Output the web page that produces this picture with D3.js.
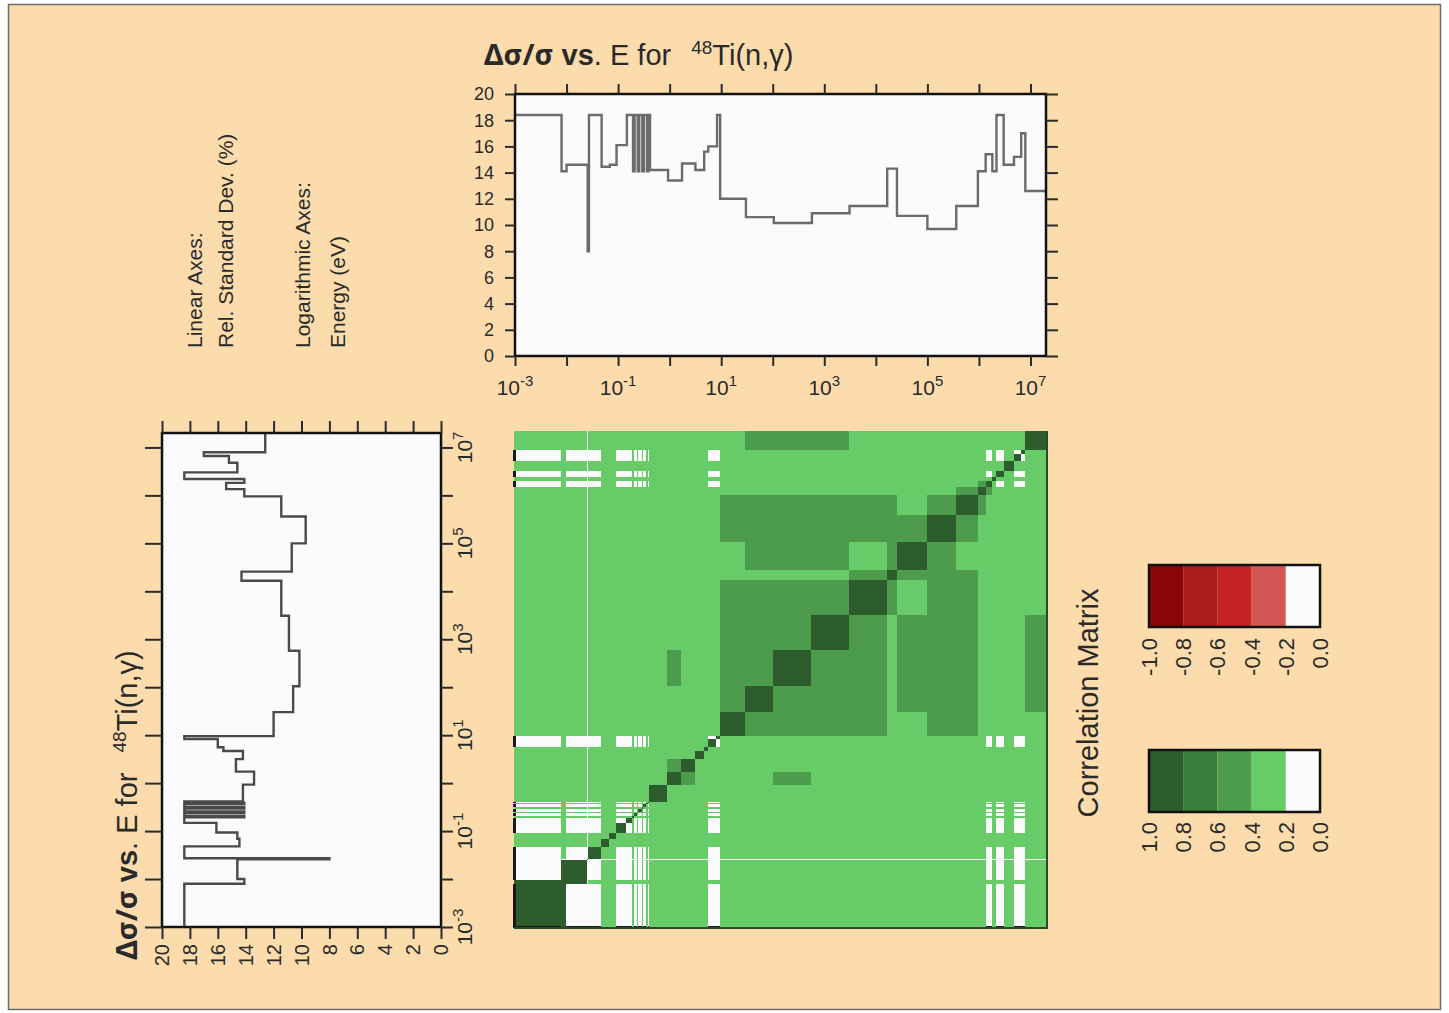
<!DOCTYPE html>
<html>
<head>
<meta charset="utf-8">
<script src="https://cdn.jsdelivr.net/npm/d3@7"></script>
<style>
  body { margin: 0; background: #ffffff; }
  text { font-family: "Liberation Sans", Arial, sans-serif; fill: #2a2a2a; }
</style>
</head>
<body>
<svg id="chart" width="1449" height="1013"></svg>
<script>
// ---- data ----
// group boundaries (eV) and rel. standard deviation (%) per group
const energyEdges = [0.001, 0.008, 0.01, 0.0257, 0.0272, 0.0479, 0.0692, 0.0933, 0.148, 0.195,
  0.209, 0.240, 0.257, 0.295, 0.316, 0.363, 0.389, 0.417, 0.933, 1.74, 3.16, 4.68, 5.62, 8.32,
  9.55, 30.2, 105, 575, 3090, 16600, 25700, 1.0e5, 3.63e5, 9.55e5, 1.35e6, 1.82e6, 2.19e6,
  3.02e6, 4.79e6, 6.61e6, 7.94e6, 2.0e7];
const relStdDev = [18.4, 14.1, 14.6, 8.0, 18.4, 14.45, 14.6, 16.1, 18.4, 14.1, 18.4, 14.1, 18.4,
  14.1, 18.4, 14.1, 18.4, 14.2, 13.4, 14.7, 14.2, 15.6, 16.0, 18.4, 12.0, 10.6, 10.15, 10.9,
  11.45, 14.3, 10.7, 9.7, 11.45, 14.1, 15.4, 14.1, 18.4, 14.6, 15.2, 17.0, 12.6];

// correlation matrix: background level, blocks [rowFrom, rowTo, colFrom, colTo, corr] (group numbers, mirrored)
const corrBackground = 0.3;
const corrBlocks = [
  [41, 41, 26, 28, 0.5],
  [32, 33, 25, 29, 0.5],
  [25, 29, 25, 29, 0.5],
  [29, 29, 30, 30, 0.5],
  [31, 33, 30, 30, 0.5],
  [26, 28, 31, 33, 0.5],
  [25, 25, 32, 33, 0.5],
  [29, 29, 32, 33, 0.5],
  [32, 32, 31, 31, 0.5],
  [33, 33, 32, 32, 0.5],
  [33, 33, 34, 34, 0.5],
  [35, 35, 34, 34, 0.5],
  [27, 27, 19, 19, 0.5],
  [20, 20, 19, 19, 0.5],
  [1, 2, 1, 2, 0.9],
  [2, 3, 2, 3, 0.9]
];
const diagCorr = 0.9;
// groups that are uncorrelated with each other, and one uncorrelated with everything
const uncorrelatedGroups = [1, 3, 4, 5, 8, 9, 11, 13, 15, 17, 23, 24, 35, 37, 39, 40];
const isolatedGroups = [4];

// ticks and legend
const decadeTicks = [1e-3, 1e-2, 1e-1, 1e0, 1e1, 1e2, 1e3, 1e4, 1e5, 1e6, 1e7];
const decadeLabels = [[1e-3, "-3"], [1e-1, "-1"], [1e1, "1"], [1e3, "3"], [1e5, "5"], [1e7, "7"]];
const stdDevTicks = [0, 2, 4, 6, 8, 10, 12, 14, 16, 18, 20];
const legendPosEdges = [1.0, 0.8, 0.6, 0.4, 0.2, 0.0];
const legendPosLabels = ["1.0", "0.8", "0.6", "0.4", "0.2", "0.0"];
const legendPosColors = ["#2d5c2d", "#3a7c3a", "#4d9b4d", "#67cb67", "#fbfbfd"];
const legendNegEdges = [-1.0, -0.8, -0.6, -0.4, -0.2, 0.0];
const legendNegLabels = ["-1.0", "-0.8", "-0.6", "-0.4", "-0.2", "0.0"];
const legendNegColors = ["#880606", "#aa1c1c", "#c62424", "#d35757", "#fbfbfd"];

const svg = d3.select("#chart");

// page background + border
svg.append("rect").attr("x", 8.5).attr("y", 4.5).attr("width", 1432).attr("height", 1005)
  .attr("fill", "#fcdcac").attr("stroke", "#6d6d6d").attr("stroke-width", 1.5);

// scales
const xTop = d3.scaleLog().domain([1e-3, 2e7]).range([515, 1046]);
const yTop = d3.scaleLinear().domain([0, 20]).range([356, 94]);
const xLeft = d3.scaleLinear().domain([20, 0]).range([162, 441]);
const yLeft = d3.scaleLog().domain([1e-3, 2e7]).range([927, 433]);
const xMat = d3.scaleLog().domain([1e-3, 2e7]).range([514, 1046]);
const yMat = d3.scaleLog().domain([1e-3, 2e7]).range([928, 431]);
const corrColor = d3.scaleThreshold().domain([0.2, 0.4, 0.6, 0.8])
  .range(["#fbfbfd", "#67cb67", "#4d9b4d", "#3a7c3a", "#2d5c2d"]);

// step points
const stepPts = [];
relStdDev.forEach(function(v, i) {
  stepPts.push({e: energyEdges[i], v: v});
  stepPts.push({e: energyEdges[i + 1], v: v});
});

function tickAxis(g, axis, tx, ty) {
  const a = g.append("g").attr("transform", "translate(" + tx + "," + ty + ")").call(axis);
  a.select(".domain").remove();
  a.selectAll(".tick text").remove();
  a.selectAll(".tick line").attr("stroke", "#2b2b2b").attr("stroke-width", 2);
  return a;
}

function powLabel(g, x, y, exp, rotate) {
  const t = g.append("text").attr("x", x).attr("y", y)
    .attr("text-anchor", "middle").style("font-size", "21px");
  if (rotate) t.attr("transform", "rotate(-90," + x + "," + y + ")");
  t.append("tspan").text("10");
  t.append("tspan").attr("dy", -9).style("font-size", "15px").text(exp);
}

function titleText(g, x, y, anchor, rotate) {
  const t = g.append("text").attr("x", x).attr("y", y)
    .attr("text-anchor", anchor).style("font-size", "29px");
  if (rotate) t.attr("transform", "rotate(-90," + x + "," + y + ")");
  t.append("tspan").style("font-family", "'Noto Sans', 'DejaVu Sans', sans-serif")
    .style("font-weight", "bold").text("\u0394\u03c3/\u03c3");
  t.append("tspan").style("font-weight", "bold").text(" vs");
  t.append("tspan").text(".  E for");
  t.append("tspan").attr("dx", 20).attr("dy", -11).style("font-size", "19px").text("48");
  t.append("tspan").attr("dy", 11).text("Ti(n,\u03b3)");
}

// ============ top plot ============
const gTop = svg.append("g");
titleText(gTop, 484, 65, "start", false);
gTop.append("rect").attr("x", 515).attr("y", 94).attr("width", 531).attr("height", 262)
  .attr("fill", "#fbfbfd");
gTop.append("path").datum(stepPts)
  .attr("d", d3.line().x(d => xTop(d.e)).y(d => yTop(d.v)))
  .attr("fill", "none").attr("stroke", "#6b6b6b").attr("stroke-width", 2.4);
gTop.append("rect").attr("x", 515).attr("y", 94).attr("width", 531).attr("height", 262)
  .attr("fill", "none").attr("stroke", "#111").attr("stroke-width", 2.5);
tickAxis(gTop, d3.axisTop(xTop).tickValues(decadeTicks).tickSize(10), 0, 94);
tickAxis(gTop, d3.axisBottom(xTop).tickValues(decadeTicks).tickSize(10), 0, 356);
tickAxis(gTop, d3.axisLeft(yTop).tickValues(stdDevTicks).tickSize(10), 515, 0);
tickAxis(gTop, d3.axisRight(yTop).tickValues(stdDevTicks).tickSize(12), 1046, 0);
gTop.selectAll("text.ylab").data(stdDevTicks).join("text").attr("class", "ylab")
  .attr("x", 494).attr("y", d => yTop(d)).attr("dy", "0.36em")
  .attr("text-anchor", "end").style("font-size", "18px").text(d => d);
decadeLabels.forEach(function(d) { powLabel(gTop, xTop(d[0]), 395, d[1], false); });

// ============ axis description ============
const gInfo = svg.append("g");
const infoLines = [["Linear Axes:", 202], ["Rel. Standard Dev. (%)", 233], ["Logarithmic Axes:", 310], ["Energy (eV)", 345]];
infoLines.forEach(function(d) {
  gInfo.append("text").attr("x", d[1]).attr("y", 348)
    .attr("transform", "rotate(-90," + d[1] + ",348)")
    .style("font-size", "21px").text(d[0]);
});

// ============ left plot ============
const gLeft = svg.append("g");
titleText(gLeft, 137, 805, "middle", true);
gLeft.append("rect").attr("x", 162).attr("y", 433).attr("width", 279).attr("height", 494)
  .attr("fill", "#fbfbfd");
gLeft.append("path").datum(stepPts)
  .attr("d", d3.line().x(d => xLeft(d.v)).y(d => yLeft(d.e)))
  .attr("fill", "none").attr("stroke", "#4a4a4a").attr("stroke-width", 2.4);
gLeft.append("rect").attr("x", 162).attr("y", 433).attr("width", 279).attr("height", 494)
  .attr("fill", "none").attr("stroke", "#111").attr("stroke-width", 2.5);
tickAxis(gLeft, d3.axisTop(xLeft).tickValues(stdDevTicks).tickSize(12), 0, 433);
tickAxis(gLeft, d3.axisBottom(xLeft).tickValues(stdDevTicks).tickSize(12), 0, 927);
tickAxis(gLeft, d3.axisLeft(yLeft).tickValues(decadeTicks).tickSize(17), 162, 0);
tickAxis(gLeft, d3.axisRight(yLeft).tickValues(decadeTicks).tickSize(12), 441, 0);
gLeft.selectAll("text.xlab").data(stdDevTicks).join("text").attr("class", "xlab")
  .attr("x", d => xLeft(d)).attr("y", 944).attr("dy", "0.36em")
  .attr("transform", d => "rotate(-90," + xLeft(d) + ",944)")
  .attr("text-anchor", "end").style("font-size", "20px").text(d => d);
decadeLabels.forEach(function(d) { powLabel(gLeft, 472, yLeft(d[0]), d[1], true); });

// ============ correlation matrix ============
const gMat = svg.append("g").attr("shape-rendering", "crispEdges");
function cell(r1, r2, c1, c2, v) {
  return {x0: energyEdges[c1 - 1], x1: energyEdges[c2], y0: energyEdges[r1 - 1], y1: energyEdges[r2], v: v};
}
const cells = [cell(1, 41, 1, 41, corrBackground)];
corrBlocks.forEach(function(b) {
  cells.push(cell(b[0], b[1], b[2], b[3], b[4]));
  cells.push(cell(b[2], b[3], b[0], b[1], b[4]));
});
uncorrelatedGroups.forEach(function(a) {
  uncorrelatedGroups.forEach(function(b) {
    if (a !== b) cells.push(cell(a, a, b, b, 0.05));
  });
});
isolatedGroups.forEach(function(a) {
  cells.push(cell(a, a, 1, 41, 0.05));
  cells.push(cell(1, 41, a, a, 0.05));
});
relStdDev.forEach(function(v, i) { cells.push(cell(i + 1, i + 1, i + 1, i + 1, diagCorr)); });

gMat.selectAll("rect.cell").data(cells).join("rect").attr("class", "cell")
  .attr("x", d => xMat(d.x0)).attr("width", d => xMat(d.x1) - xMat(d.x0))
  .attr("y", d => yMat(d.y1)).attr("height", d => yMat(d.y0) - yMat(d.y1))
  .attr("fill", d => corrColor(d.v));

// dark marks along the left and bottom edges of the matrix
gMat.selectAll("rect.lmark").data(uncorrelatedGroups).join("rect").attr("class", "lmark")
  .attr("x", 513).attr("width", 3)
  .attr("y", g => yMat(energyEdges[g])).attr("height", g => yMat(energyEdges[g - 1]) - yMat(energyEdges[g]))
  .attr("fill", "#1a1a1a");
gMat.selectAll("rect.bmark").data(uncorrelatedGroups).join("rect").attr("class", "bmark")
  .attr("y", 926).attr("height", 3)
  .attr("x", g => xMat(energyEdges[g - 1])).attr("width", g => xMat(energyEdges[g]) - xMat(energyEdges[g - 1]))
  .attr("fill", "#1a1a1a");
gMat.append("line").attr("x1", 514).attr("x2", 1047).attr("y1", 928).attr("y2", 928)
  .attr("stroke", "#2a4a2a").attr("stroke-width", 2);
gMat.append("line").attr("x1", 1047).attr("x2", 1047).attr("y1", 431).attr("y2", 929)
  .attr("stroke", "#2a4a2a").attr("stroke-width", 2);

// ============ legends ============
const gLeg = svg.append("g");
gLeg.append("text").attr("x", 1098).attr("y", 703)
  .attr("transform", "rotate(-90,1098,703)").attr("text-anchor", "middle")
  .style("font-size", "29px").text("Correlation Matrix");

function legendBar(edges, labels, colors, y, h, labY) {
  const x = d3.scaleLinear().domain([edges[0], edges[edges.length - 1]]).range([1149, 1320]);
  const g = gLeg.append("g");
  g.selectAll("rect").data(colors).join("rect")
    .attr("x", (c, i) => x(edges[i])).attr("width", (c, i) => x(edges[i + 1]) - x(edges[i]))
    .attr("y", y).attr("height", h).attr("fill", c => c);
  g.append("rect").attr("x", 1149).attr("y", y).attr("width", 171).attr("height", h)
    .attr("fill", "none").attr("stroke", "#111").attr("stroke-width", 2.5);
  g.selectAll("text").data(labels).join("text")
    .attr("x", (l, i) => x(edges[i])).attr("y", labY).attr("dy", "0.36em")
    .attr("transform", (l, i) => "rotate(-90," + x(edges[i]) + "," + labY + ")")
    .attr("text-anchor", "end").style("font-size", "22px").text(l => l);
}
legendBar(legendNegEdges, legendNegLabels, legendNegColors, 565, 62, 638);
legendBar(legendPosEdges, legendPosLabels, legendPosColors, 750, 62, 822);
</script>
</body>
</html>
